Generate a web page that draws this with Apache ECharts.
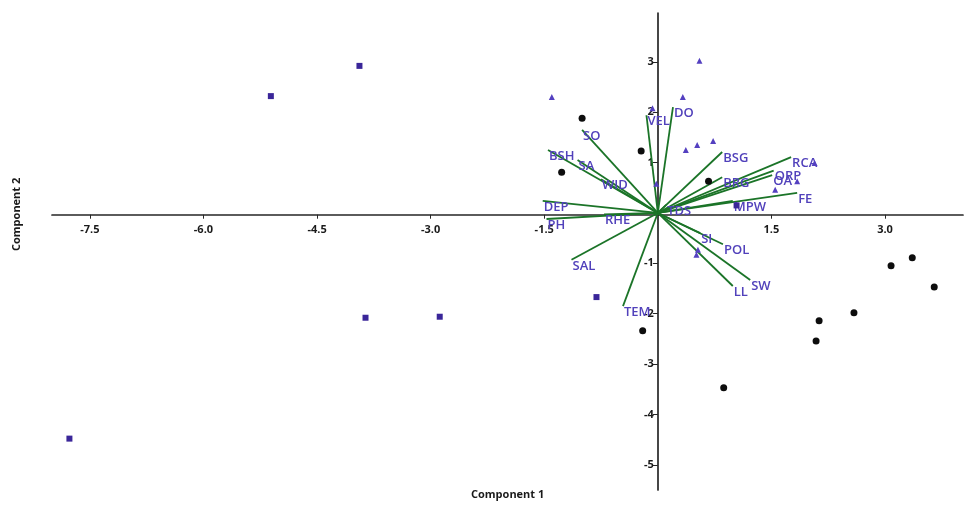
<!DOCTYPE html>
<html>
<head>
<meta charset="utf-8">
<script src="https://cdn.jsdelivr.net/npm/echarts@6/dist/echarts.min.js"></script>
<style>
  html, body { margin: 0; padding: 0; background: #ffffff; }
  #chart { width: 972px; height: 508px; }
</style>
</head>
<body>
<div id="chart"></div>
<script>
// Tick positions on the two component axes
const xTicks = [-7.5, -6, -4.5, -3, -1.5, 1.5, 3];
const yTicks = [-5, -4, -3, -2, -1, 1, 2, 3];

// Sample scores (Component 1, Component 2), one array per group
const squareScores = [
  [-5.11, 2.32], [-3.94, 2.92], [-3.86, -2.08], [-2.88, -2.06],
  [-7.77, -4.48], [-0.81, -1.67], [1.04, 0.15]
];
const dotScores = [
  [-1.00, 1.88], [-0.22, 1.23], [-1.27, 0.81], [0.67, 0.63],
  [-0.20, -2.34], [0.87, -3.47], [3.08, -1.05], [3.36, -0.89],
  [3.65, -1.47], [2.59, -1.98], [2.13, -2.14], [2.09, -2.54]
];
const triangleScores = [
  [-1.40, 2.30], [0.55, 3.02], [0.33, 2.30], [-0.07, 2.08],
  [0.37, 1.25], [0.52, 1.35], [0.73, 1.43], [1.84, 0.63],
  [1.55, 0.46], [2.07, 0.99], [0.53, -0.73], [0.51, -0.83],
  [-0.02, 0.58]
];

// Variable loadings drawn as vectors from the origin
const loadingNames = ['VEL', 'DO', 'SO', 'BSH', 'SA', 'WID', 'DEP', 'PH', 'RHE', 'TDS',
  'SAL', 'TEM', 'SI', 'POL', 'SW', 'LL', 'MPW', 'FE', 'BSG', 'RCA', 'ORP', 'OA', 'BRG'];
const loadingX = [-0.15, 0.20, -1.00, -1.45, -1.06, -0.75, -1.52, -1.47, -0.71, 0.11,
  -1.14, -0.46, 0.56, 0.86, 1.22, 0.99, 0.99, 1.84, 0.85, 1.76, 1.53, 1.51, 0.85];
const loadingY = [1.94, 2.10, 1.65, 1.25, 1.05, 0.67, 0.24, -0.12, -0.03, 0.16,
  -0.93, -1.85, -0.40, -0.62, -1.33, -1.45, 0.24, 0.40, 1.21, 1.11, 0.84, 0.75, 0.71];

const purple = '#3a2699';
const triPurple = '#5440c0';
const labelPurple = '#5141bb';
const green = '#1b7428';
const axisColor = '#262626';
const axisText = { color: '#1a1a1a', fontFamily: 'Open Sans', fontWeight: 700, fontSize: 11 };

const chart = echarts.init(document.getElementById('chart'), null, { renderer: 'canvas' });

const option = {
  animation: false,
  backgroundColor: '#ffffff',
  grid: { left: 52, right: 9, top: 13, bottom: 18, containLabel: false },
  xAxis: {
    type: 'value', min: -8, max: 4.03, position: 'bottom', offset: 0,
    axisLine: { onZero: false, lineStyle: { color: axisColor, width: 1.7 } },
    axisTick: { show: true, length: 4, customValues: xTicks, lineStyle: { color: axisColor } },
    axisLabel: Object.assign({ customValues: xTicks, margin: 10,
      formatter: v => v.toFixed(1) }, axisText),
    splitLine: { show: false }
  },
  yAxis: {
    type: 'value', min: -5.5, max: 3.97, position: 'left', offset: 0,
    axisLine: { onZero: false, lineStyle: { color: axisColor, width: 1.7 } },
    axisTick: { show: true, length: 5, customValues: yTicks, lineStyle: { color: axisColor } },
    axisLabel: Object.assign({ customValues: yTicks, margin: 4,
      formatter: v => String(v) }, axisText),
    splitLine: { show: false }
  },
  graphic: [
    { type: 'text', left: 471, top: 489,
      style: { text: 'Component 1', fill: '#1a1a1a', font: '700 11px "Open Sans"' } },
    { type: 'text', x: 11, y: 251, rotation: Math.PI / 2,
      style: { text: 'Component 2', fill: '#1a1a1a', font: '700 11px "Open Sans"' } }
  ],
  series: [
    {
      type: 'custom',
      coordinateSystem: 'cartesian2d',
      clip: false,
      z: 3,
      data: loadingX.map((x, i) => [x, loadingY[i]]),
      renderItem: function (params, api) {
        const o = api.coord([0, 0]);
        const p = api.coord([api.value(0), api.value(1)]);
        return {
          type: 'group',
          children: [
            { type: 'line',
              shape: { x1: o[0], y1: o[1], x2: p[0], y2: p[1] },
              style: { stroke: green, lineWidth: 1.8 } },
            { type: 'text', x: p[0] + 1, y: p[1] + 6, z2: 10,
              style: { text: loadingNames[params.dataIndex], fill: labelPurple,
                font: '600 13px "Open Sans"', align: 'left', verticalAlign: 'middle' } }
          ]
        };
      }
    },
    {
      type: 'scatter', z: 4, symbol: 'rect', symbolSize: 6,
      itemStyle: { color: purple, opacity: 1 }, data: squareScores
    },
    {
      type: 'scatter', z: 4, symbol: 'circle', symbolSize: 7,
      itemStyle: { color: '#0d0d0d', opacity: 1 }, data: dotScores
    },
    {
      type: 'scatter', z: 4, symbol: 'triangle', symbolSize: 6,
      itemStyle: { color: triPurple, opacity: 1 }, data: triangleScores
    }
  ]
};

chart.setOption(option);

// Move both axes so they cross at the origin (labels and ticks travel with them)
const origin = chart.convertToPixel({ gridIndex: 0 }, [0, 0]);
const box = chart.getModel().getComponent('grid', 0).coordinateSystem.getRect();
chart.setOption({
  xAxis: { offset: -(box.y + box.height - origin[1]) },
  yAxis: { offset: -(origin[0] - box.x) }
});
</script>
</body>
</html>
